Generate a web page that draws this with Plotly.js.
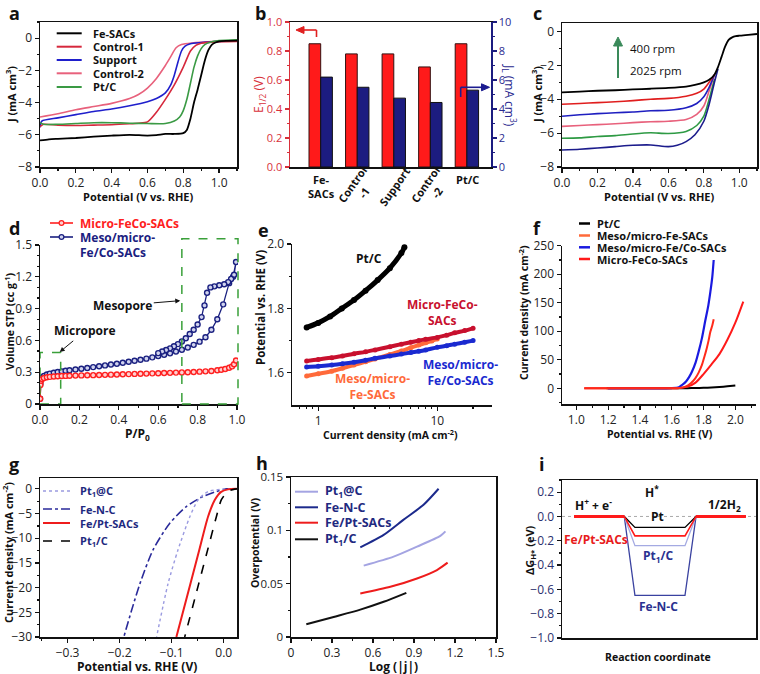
<!DOCTYPE html>
<html>
<head>
<meta charset="utf-8">
<script src="https://cdn.plot.ly/plotly-3.0.1.min.js"></script>
<style>html,body{margin:0;padding:0;background:#fff;}#chart{width:760px;height:674px;}</style>
</head>
<body>
<div id="chart"></div>
<script>
// ---------------- DATA ----------------
// (a) ORR polarization curves
const aFeX = [0, 0.05, 0.1, 0.2, 0.3, 0.4, 0.5, 0.6, 0.65, 0.7, 0.75, 0.8, 0.82, 0.84, 0.86, 0.88, 0.9, 0.92, 0.94, 0.96, 0.98, 1.0, 1.05, 1.1];
const aFeY = [-6.35, -6.28, -6.25, -6.2, -6.12, -6.05, -6.0, -6.05, -6.02, -5.95, -5.95, -5.9, -5.7, -5.0, -4.0, -3.2, -2.3, -1.4, -0.75, -0.4, -0.27, -0.2, -0.17, -0.15];
const aC1X = [0, 0.02, 0.1, 0.2, 0.3, 0.4, 0.5, 0.55, 0.6, 0.65, 0.7, 0.75, 0.8, 0.84, 0.87, 0.9, 1.0, 1.1];
const aC1Y = [-5.5, -5.35, -5.4, -5.42, -5.4, -5.38, -5.32, -5.28, -5.2, -4.6, -3.8, -2.9, -1.8, -0.8, -0.45, -0.32, -0.22, -0.2];
const aSupX = [0, 0.01, 0.1, 0.2, 0.3, 0.4, 0.5, 0.6, 0.65, 0.7, 0.73, 0.75, 0.77, 0.79, 0.81, 0.84, 0.9, 1.0, 1.1];
const aSupY = [-5.55, -5.15, -4.95, -4.75, -4.55, -4.4, -4.2, -3.95, -3.75, -3.4, -2.9, -2.3, -1.5, -0.8, -0.5, -0.35, -0.28, -0.2, -0.18];
const aC2X = [0, 0.1, 0.2, 0.3, 0.4, 0.5, 0.55, 0.6, 0.65, 0.7, 0.73, 0.76, 0.79, 0.85, 1.0, 1.1];
const aC2Y = [-4.9, -4.7, -4.45, -4.25, -4.05, -3.75, -3.5, -3.1, -2.5, -1.7, -1.15, -0.6, -0.4, -0.3, -0.2, -0.15];
const aPtX = [0, 0.02, 0.1, 0.2, 0.3, 0.4, 0.5, 0.6, 0.7, 0.75, 0.78, 0.8, 0.82, 0.84, 0.86, 0.88, 0.9, 0.92, 0.95, 1.0, 1.1];
const aPtY = [-5.25, -5.35, -5.35, -5.3, -5.25, -5.25, -5.28, -5.3, -5.3, -5.15, -4.9, -4.5, -3.8, -2.8, -1.8, -1.1, -0.65, -0.4, -0.25, -0.15, -0.1];
const aNames = ['Fe-SACs', 'Control-1', 'Support', 'Control-2', 'Pt/C'];

// (b) half-wave potential and limiting current
const bCats = ['Fe-SACs', 'Control-1', 'Support', 'Control-2', 'Pt/C'];
const bTickText = ['Fe-<br>SACs', 'Control<br>-1', 'Support', 'Control<br>-2', 'Pt/C'];
const bE12 = [0.85, 0.78, 0.78, 0.69, 0.85];
const bJL = [6.2, 5.5, 4.75, 4.45, 5.3];

// (c) RDE curves at different rotation rates
const cX = [0, 0.1, 0.2, 0.3, 0.4, 0.5, 0.6, 0.7, 0.76, 0.8, 0.83, 0.86];
const c400X = [0, 0.1, 0.2, 0.3, 0.4, 0.5, 0.6, 0.7, 0.75, 0.8, 0.83, 0.86, 0.88, 0.9, 0.92, 0.94, 0.96, 0.98, 1.0, 1.05, 1.1];
const c400Y = [-3.6, -3.55, -3.5, -3.47, -3.42, -3.38, -3.33, -3.25, -3.15, -3.0, -2.85, -2.55, -2.1, -1.5, -0.9, -0.5, -0.35, -0.28, -0.25, -0.2, -0.15];
const c625Y = [-4.3, -4.25, -4.2, -4.15, -4.08, -4.0, -3.95, -3.82, -3.65, -3.4, -3.0, -2.55];
const c900Y = [-5.0, -4.92, -4.85, -4.8, -4.75, -4.68, -4.65, -4.5, -4.25, -3.85, -3.3, -2.55];
const c1225Y = [-5.6, -5.55, -5.5, -5.45, -5.38, -5.33, -5.3, -5.2, -4.9, -4.4, -3.5, -2.55];
const c1600Y = [-6.3, -6.28, -6.2, -6.15, -6.05, -5.98, -6.02, -5.9, -5.55, -5.0, -4.0, -2.8];
const c2025X = [0, 0.1, 0.2, 0.3, 0.4, 0.5, 0.6, 0.65, 0.7, 0.75, 0.8, 0.83, 0.86, 0.88];
const c2025Y = [-7.0, -6.95, -6.88, -6.8, -6.72, -6.7, -6.8, -6.72, -6.5, -6.1, -5.3, -4.3, -3.0, -2.2];

// (d) N2 isotherms
const dRX = [0.0005, 0.002, 0.005, 0.01, 0.02, 0.035, 0.05, 0.07, 0.09, 0.11, 0.13, 0.15, 0.18, 0.21, 0.24, 0.27, 0.3, 0.33, 0.36, 0.39, 0.42, 0.45, 0.48, 0.51, 0.54, 0.57, 0.6, 0.63, 0.66, 0.69, 0.72, 0.75, 0.78, 0.81, 0.84, 0.87, 0.9, 0.92, 0.94, 0.96, 0.975, 0.985, 0.995];
const dRY = [0.05, 0.18, 0.22, 0.235, 0.245, 0.252, 0.256, 0.26, 0.262, 0.264, 0.265, 0.266, 0.268, 0.27, 0.271, 0.272, 0.274, 0.275, 0.277, 0.278, 0.28, 0.282, 0.284, 0.285, 0.287, 0.289, 0.29, 0.292, 0.294, 0.296, 0.298, 0.3, 0.302, 0.305, 0.308, 0.312, 0.318, 0.323, 0.33, 0.342, 0.355, 0.375, 0.41];
const dBX = [0.0005, 0.002, 0.005, 0.01, 0.02, 0.035, 0.05, 0.07, 0.09, 0.11, 0.13, 0.15, 0.18, 0.21, 0.24, 0.27, 0.3, 0.33, 0.36, 0.39, 0.42, 0.45, 0.48, 0.51, 0.54, 0.57, 0.6, 0.63, 0.66, 0.69, 0.72, 0.75, 0.78, 0.81, 0.84, 0.87, 0.9, 0.93, 0.96, 0.98, 0.995,
             0.985, 0.97, 0.955, 0.935, 0.91, 0.885, 0.865, 0.848, 0.835, 0.82, 0.8, 0.78, 0.76, 0.74, 0.72, 0.7, 0.68, 0.66, 0.64, 0.62, 0.6];
const dBY = [0.05, 0.19, 0.23, 0.25, 0.265, 0.278, 0.287, 0.295, 0.302, 0.308, 0.313, 0.318, 0.326, 0.333, 0.34, 0.348, 0.356, 0.364, 0.372, 0.38, 0.389, 0.398, 0.408, 0.418, 0.428, 0.44, 0.452, 0.465, 0.478, 0.495, 0.512, 0.533, 0.558, 0.588, 0.63, 0.7, 0.8, 0.94, 1.14, 1.2, 1.34,
             1.22, 1.18, 1.15, 1.13, 1.12, 1.11, 1.1, 1.05, 0.93, 0.82, 0.75, 0.7, 0.66, 0.62, 0.59, 0.565, 0.545, 0.525, 0.51, 0.495, 0.48];

// (e) OER Tafel plots
const ePtX = [0.8, 1.0, 1.26, 1.58, 2.0, 2.5, 3.16, 4.0, 5.0, 5.3];
const ePtY = [1.741, 1.755, 1.775, 1.8, 1.826, 1.855, 1.888, 1.925, 1.972, 1.99];
const eFeCoX = [0.8, 1, 1.3, 1.6, 2, 2.5, 3, 4, 5, 6, 7, 8, 10, 12, 14, 17, 20];
const eFeCoY = [1.637, 1.641, 1.647, 1.652, 1.659, 1.665, 1.671, 1.681, 1.689, 1.695, 1.7, 1.704, 1.71, 1.717, 1.724, 1.731, 1.738];
const eMesoFeCoY = [1.618, 1.62, 1.624, 1.628, 1.633, 1.639, 1.645, 1.652, 1.658, 1.663, 1.667, 1.671, 1.679, 1.684, 1.689, 1.695, 1.70];
const eFeX = [0.8, 1, 1.3, 1.6, 2, 2.5, 3, 4, 5, 6, 7, 8, 9, 10];
const eFeY = [1.59, 1.597, 1.605, 1.614, 1.624, 1.634, 1.643, 1.657, 1.668, 1.678, 1.686, 1.693, 1.699, 1.705];

// (f) OER LSV curves
const fPtX = [1.19, 1.3, 1.4, 1.5, 1.6, 1.7, 1.75, 1.8, 1.85, 1.9, 1.95, 2.0];
const fPtY = [0, 0, 0, 0, 0.1, 0.3, 0.5, 0.9, 1.5, 2.4, 3.5, 4.8];
const fFeX = [1.05, 1.2, 1.4, 1.6, 1.65, 1.686, 1.72, 1.748, 1.77, 1.79, 1.805, 1.82, 1.832, 1.843, 1.855, 1.864];
const fFeY = [0, 0, 0, 0, 0.5, 3, 9, 17.5, 28, 41, 55, 70, 84, 99, 110, 121];
const fFeCoX = [1.2, 1.4, 1.6, 1.645, 1.665, 1.69, 1.71, 1.727, 1.75, 1.769, 1.79, 1.81, 1.83, 1.843, 1.855, 1.864];
const fFeCoY = [0, 0, 0.5, 2, 5.8, 12, 20, 29, 45, 64, 88, 117, 145, 169, 195, 225];
const fMicroX = [1.05, 1.3, 1.5, 1.6, 1.65, 1.7, 1.75, 1.8, 1.85, 1.9, 1.95, 2.0, 2.05];
const fMicroY = [0, 0, 0, 0, 0.5, 3, 10, 25, 42, 60, 85, 115, 152];

// (g) HER polarization curves
const gPt1atCX = [0.015, -0.008, -0.03, -0.049, -0.065, -0.088, -0.107, -0.129];
const gPt1atCY = [0, -0.1, -0.54, -2.2, -5.6, -12.4, -19.2, -30];
const gFeNCX = [0.015, 0.005, -0.014, -0.04, -0.072, -0.104, -0.136, -0.161, -0.177, -0.192];
const gFeNCY = [0, 0, -0.54, -1.56, -3.6, -7.0, -12.4, -19.2, -24.6, -30];
const gFePtX = [0.025, 0.008, -0.005, -0.017, -0.03, -0.047, -0.064, -0.091];
const gFePtY = [0, -0.1, -0.6, -2.2, -5.6, -12.4, -19.2, -30];
const gPt1CX = [0.03, 0.021, 0.008, -0.0045, -0.014, -0.031, -0.048, -0.075];
const gPt1CY = [0, -0.05, -0.54, -2.2, -5.6, -12.4, -19.2, -30];

// (h) HER Tafel plots
const hPt1atCX = [0.532, 0.751, 0.922, 1.093, 1.13];
const hPt1atCY = [0.0669, 0.0753, 0.0847, 0.0948, 0.099];
const hFeNCX = [0.507, 0.678, 0.824, 0.97, 1.08];
const hFeNCY = [0.0841, 0.0957, 0.11, 0.124, 0.139];
const hFePtX = [0.507, 0.727, 0.922, 1.068, 1.146];
const hFePtY = [0.0408, 0.0471, 0.0549, 0.0628, 0.0697];
const hPt1CX = [0.112, 0.312, 0.507, 0.678, 0.844];
const hPt1CY = [0.0119, 0.0188, 0.0257, 0.033, 0.0414];

// (i) free-energy diagram
const iX = [0.062, 0.321, 0.376, 0.634, 0.691, 0.948];
const iPt = [0, 0, -0.09, -0.09, 0, 0];
const iFePt = [0, 0, -0.16, -0.16, 0, 0];
const iPt1C = [0, 0, -0.24, -0.24, 0, 0];
const iFeNC = [0, 0, -0.65, -0.65, 0, 0];

// ---------------- LAYOUT HELPERS ----------------
const W = 760, H = 674;
const F = 'Open Sans, sans-serif';
const px = v => v / W;
const py = v => 1 - v / H;
const xd = (a, b) => [a / W, b / W];
const yd = (top, bot) => [1 - bot / H, 1 - top / H];

const shapes = [];
const annotations = [];

function txt(x, y, text, o) {
  o = o || {};
  annotations.push({
    xref: 'paper', yref: 'paper', x: px(x), y: py(y), text: text, showarrow: false,
    xanchor: o.xa || 'left', yanchor: o.ya || 'middle', align: o.align || 'left',
    textangle: o.angle || 0,
    font: { family: F, size: o.size || 11, color: o.color || '#111', weight: o.bold === false ? 400 : 700 }
  });
}
// axis titles (placed as paper text)
function xt(x, y, text, size) { txt(x, y, text, { size: size || 12, xa: 'center', align: 'center' }); }
function yt(x, y, text, size, color, bold) { txt(x, y, text, { size: size || 12, xa: 'center', align: 'center', angle: -90, color: color, bold: bold }); }
function seg(x0, y0, x1, y1, color, width, dash) {
  shapes.push({ type: 'line', xref: 'paper', yref: 'paper', x0: px(x0), y0: py(y0), x1: px(x1), y1: py(y1),
    line: { color: color, width: width || 2, dash: dash || 'solid' } });
}
function tri(pts, color) {
  const d = pts.map((p, k) => (k ? 'L ' : 'M ') + px(p[0]).toFixed(5) + ' ' + py(p[1]).toFixed(5)).join(' ') + ' Z';
  shapes.push({ type: 'path', xref: 'paper', yref: 'paper', path: d, fillcolor: color, line: { color: color, width: 1 } });
}
function dot(x, y, r, fill, line) {
  shapes.push({ type: 'circle', xref: 'paper', yref: 'paper', x0: px(x - r), x1: px(x + r), y0: py(y + r), y1: py(y - r),
    fillcolor: fill, line: { color: line, width: 1.2 } });
}

function axis(extra) {
  const base = {
    showgrid: false, zeroline: false, showline: true, linecolor: '#111', linewidth: 1.5,
    ticks: 'outside', ticklen: 4, tickwidth: 1.2, tickcolor: '#111',
    tickfont: { family: F, size: 12, color: '#222' },
    minor: { ticks: 'outside', ticklen: 2, tickwidth: 1, tickcolor: '#111' },
    fixedrange: true
  };
  return Object.assign(base, extra);
}

// ---------------- TRACES ----------------
const traces = [];
function line(x, y, xa, ya, color, width, dash, name) {
  traces.push({ type: 'scatter', mode: 'lines', x: x, y: y, xaxis: xa, yaxis: ya, name: name,
    line: { color: color, width: width, dash: dash || 'solid', shape: 'spline', smoothing: 0.7 }, showlegend: false, hoverinfo: 'skip' });
}

// (a)
const aCol = ['#000000', '#d6283c', '#1f1fcc', '#e8617c', '#3a9a44'];
line(aC2X, aC2Y, 'x', 'y', aCol[3], 1.6, null, aNames[3]);
line(aSupX, aSupY, 'x', 'y', aCol[2], 1.6, null, aNames[2]);
line(aC1X, aC1Y, 'x', 'y', aCol[1], 1.6, null, aNames[1]);
line(aPtX, aPtY, 'x', 'y', aCol[4], 1.6, null, aNames[4]);
line(aFeX, aFeY, 'x', 'y', aCol[0], 1.8, null, aNames[0]);

// (b)
traces.push({ type: 'bar', x: bCats, y: bE12, xaxis: 'x2', yaxis: 'y2', name: 'E1/2', width: 0.32, offset: -0.33,
  marker: { color: '#ff1a1a', line: { color: '#331111', width: 1 } }, showlegend: false, hoverinfo: 'skip' });
traces.push({ type: 'bar', x: bCats, y: bJL, xaxis: 'x2', yaxis: 'y10', name: 'JL', width: 0.32, offset: -0.01,
  marker: { color: '#1c1c80', line: { color: '#111', width: 1 } }, showlegend: false, hoverinfo: 'skip' });

// (c)
line(cX, c1600Y, 'x3', 'y3', '#2e9a44', 1.6, null, '1600 rpm');
line(cX, c1225Y, 'x3', 'y3', '#e8617c', 1.6, null, '1225 rpm');
line(cX, c900Y, 'x3', 'y3', '#1f1fc0', 1.6, null, '900 rpm');
line(cX, c625Y, 'x3', 'y3', '#e01e1e', 1.6, null, '625 rpm');
line(c2025X, c2025Y, 'x3', 'y3', '#1c1c8c', 1.6, null, '2025 rpm');
line(c400X, c400Y, 'x3', 'y3', '#000000', 1.8, null, '400 rpm');

// (d)
traces.push({ type: 'scatter', mode: 'lines+markers', x: dBX, y: dBY, xaxis: 'x4', yaxis: 'y4', name: 'Meso/micro-Fe/Co-SACs',
  line: { color: '#1a2080', width: 1.3 }, marker: { symbol: 'circle', size: 5, color: '#d0d3ee', line: { color: '#1a2080', width: 1.4 } },
  showlegend: false, hoverinfo: 'skip' });
traces.push({ type: 'scatter', mode: 'lines+markers', x: dRX, y: dRY, xaxis: 'x4', yaxis: 'y4', name: 'Micro-FeCo-SACs',
  line: { color: '#ff2020', width: 1.3 }, marker: { symbol: 'circle', size: 5, color: '#ffd0d0', line: { color: '#ff2020', width: 1.4 } },
  showlegend: false, hoverinfo: 'skip' });

// (e)
function beads(x, y, color, w, name) {
  traces.push({ type: 'scatter', mode: 'lines+markers', x: x, y: y, xaxis: 'x5', yaxis: 'y5', name: name,
    line: { color: color, width: w, shape: 'spline', smoothing: 0.8 }, marker: { size: w + 1, color: color },
    showlegend: false, hoverinfo: 'skip' });
}
beads(eFeX, eFeY, '#ff6a3a', 4, 'Meso/micro-Fe-SACs');
beads(eFeCoX, eMesoFeCoY, '#1a2ad0', 4, 'Meso/micro-Fe/Co-SACs');
beads(eFeCoX, eFeCoY, '#c8102e', 4, 'Micro-FeCo-SACs');
beads(ePtX, ePtY, '#000000', 5, 'Pt/C');

// (f)
line(fPtX, fPtY, 'x6', 'y6', '#000000', 2, null, 'Pt/C');
line(fFeCoX, fFeCoY, 'x6', 'y6', '#1a1ae0', 2.2, null, 'Meso/micro-Fe/Co-SACs');
line(fMicroX, fMicroY, 'x6', 'y6', '#ff1a1a', 2, null, 'Micro-FeCo-SACs');
line(fFeX, fFeY, 'x6', 'y6', '#ff2a1a', 2, null, 'Meso/micro-Fe-SACs');

// (g)
line(gFeNCX, gFeNCY, 'x7', 'y7', '#2a2a9a', 1.6, 'dashdot', 'Fe-N-C');
line(gPt1atCX, gPt1atCY, 'x7', 'y7', '#9a9ae0', 1.4, 'dot', 'Pt1@C');
line(gFePtX, gFePtY, 'x7', 'y7', '#ee1c1c', 2, null, 'Fe/Pt-SACs');
line(gPt1CX, gPt1CY, 'x7', 'y7', '#000000', 1.6, 'dash', 'Pt1/C');

// (h)
line(hFeNCX, hFeNCY, 'x8', 'y8', '#1c2a8c', 2, null, 'Fe-N-C');
line(hPt1atCX, hPt1atCY, 'x8', 'y8', '#a4a4e2', 2, null, 'Pt1@C');
line(hFePtX, hFePtY, 'x8', 'y8', '#ee1c1c', 2, null, 'Fe/Pt-SACs');
line(hPt1CX, hPt1CY, 'x8', 'y8', '#111111', 2, null, 'Pt1/C');

// (i)
function level(y, color, w, name) {
  traces.push({ type: 'scatter', mode: 'lines', x: iX, y: y, xaxis: 'x9', yaxis: 'y9', name: name,
    line: { color: color, width: w }, showlegend: false, hoverinfo: 'skip' });
}
level(iFeNC, '#3a42a0', 1.3, 'Fe-N-C');
level(iPt1C, '#a4aae2', 1.3, 'Pt1/C');
level(iPt, '#000000', 1.3, 'Pt');
level(iFePt, '#ff1a1a', 1.6, 'Fe/Pt-SACs');
traces.push({ type: 'scatter', mode: 'lines', x: [iX[0], iX[1]], y: [iFePt[0], iFePt[1]], xaxis: 'x9', yaxis: 'y9',
  line: { color: '#ff1a1a', width: 3 }, showlegend: false, hoverinfo: 'skip' });
traces.push({ type: 'scatter', mode: 'lines', x: [iX[4], iX[5]], y: [iFePt[4], iFePt[5]], xaxis: 'x9', yaxis: 'y9',
  line: { color: '#ff1a1a', width: 3 }, showlegend: false, hoverinfo: 'skip' });

// ---------------- AXES ----------------
const layout = {
  width: W, height: H, margin: { l: 0, r: 0, t: 0, b: 0 },
  paper_bgcolor: '#ffffff', plot_bgcolor: 'rgba(0,0,0,0)',
  showlegend: false, font: { family: F, color: '#111' },
  barmode: 'overlay'
};

// a
layout.xaxis = axis({ domain: xd(40, 237), anchor: 'y', range: [0, 1.1], dtick: 0.2, tickformat: '.1f', mirror: true,
  minor: { ticks: 'outside', ticklen: 2, dtick: 0.1, tickcolor: '#111' } });
layout.yaxis = axis({ domain: yd(22, 167), anchor: 'x', range: [-8, 1], dtick: 2, mirror: true,
  minor: { ticks: 'outside', ticklen: 2, dtick: 1, tickcolor: '#111' } });

// b
layout.xaxis2 = axis({ domain: xd(290, 491), anchor: 'y2', type: 'category', range: [-0.85, 4.65], showticklabels: false,
  ticks: '', mirror: true, minor: { ticks: '' } });
layout.yaxis2 = axis({ domain: yd(22, 167), anchor: 'x2', range: [0, 1.0], dtick: 0.2, tickformat: '.1f', linecolor: '#d8303a', tickcolor: '#d8303a',
  tickfont: { family: F, size: 11, color: '#d8303a' }, minor: { ticks: 'outside', ticklen: 2, dtick: 0.1, tickcolor: '#d8303a' } });
layout.yaxis10 = axis({ overlaying: 'y2', anchor: 'x2', side: 'right', range: [0, 10], dtick: 2, linecolor: '#1c1c80', tickcolor: '#1c1c80',
  tickfont: { family: F, size: 11, color: '#2a2a90' }, minor: { ticks: 'outside', ticklen: 2, dtick: 1, tickcolor: '#1c1c80' } });

// c
layout.xaxis3 = axis({ domain: xd(562, 757), anchor: 'y3', range: [0, 1.1], dtick: 0.2, tickformat: '.1f', mirror: true,
  minor: { ticks: 'outside', ticklen: 2, dtick: 0.1, tickcolor: '#111' } });
layout.yaxis3 = axis({ domain: yd(23, 167), anchor: 'x3', range: [-8, 0.5], dtick: 2, mirror: true,
  minor: { ticks: 'outside', ticklen: 2, dtick: 1, tickcolor: '#111' } });

// d
layout.xaxis4 = axis({ domain: xd(40, 238), anchor: 'y4', range: [0, 1.005], dtick: 0.2, tickformat: '.1f',
  minor: { ticks: 'outside', ticklen: 2, dtick: 0.1, tickcolor: '#111' } });
layout.yaxis4 = axis({ domain: yd(245, 404), anchor: 'x4', range: [0, 1.5], dtick: 0.3,
  minor: { ticks: 'outside', ticklen: 2, dtick: 0.1, tickcolor: '#111' } });

// e
layout.xaxis5 = axis({ domain: xd(292, 492), anchor: 'y5', type: 'log', range: [-0.22, 1.46], tickvals: [1, 10], ticktext: ['1', '10'],
  minor: { ticks: 'outside', ticklen: 2, tickcolor: '#111', tickvals: [0.6, 0.7, 0.8, 0.9, 2, 3, 4, 5, 6, 7, 8, 9, 20] } });
layout.yaxis5 = axis({ domain: yd(244, 405), anchor: 'x5', range: [1.5, 2.0], tickvals: [1.6, 1.8, 2.0], tickformat: '.1f',
  minor: { ticks: 'outside', ticklen: 2, tickcolor: '#111', tickvals: [1.7, 1.9] } });

// f
layout.xaxis6 = axis({ domain: xd(562, 756), anchor: 'y6', range: [0.91, 2.13], dtick: 0.2, tick0: 1.0, tickformat: '.1f',
  minor: { ticks: 'outside', ticklen: 2, dtick: 0.1, tickcolor: '#111' } });
layout.yaxis6 = axis({ domain: yd(245.7, 404), anchor: 'x6', range: [-27.5, 250], dtick: 50, tick0: 0,
  minor: { ticks: 'outside', ticklen: 2, dtick: 25, tickcolor: '#111' } });

// g
layout.xaxis7 = axis({ domain: xd(40, 237), anchor: 'y7', range: [-0.353, 0.0255], dtick: 0.1, tick0: 0, tickformat: '.1f', mirror: true,
  minor: { ticks: 'outside', ticklen: 2, dtick: 0.05, tickcolor: '#111' } });
layout.yaxis7 = axis({ domain: yd(478, 637), anchor: 'x7', range: [-30, 2.2], dtick: 5, tick0: 0, mirror: true,
  minor: { ticks: 'outside', ticklen: 2, dtick: 2.5, tickcolor: '#111' } });

// h
layout.xaxis8 = axis({ domain: xd(291, 496), anchor: 'y8', range: [0, 1.5], dtick: 0.3, mirror: true,
  minor: { ticks: 'outside', ticklen: 2, dtick: 0.15, tickcolor: '#111' } });
layout.yaxis8 = axis({ domain: yd(477, 637), anchor: 'x8', range: [0, 0.15], dtick: 0.05, mirror: true,
  tickfont: { family: F, size: 11.5, color: '#222' },
  minor: { ticks: 'outside', ticklen: 2, dtick: 0.025, tickcolor: '#111' } });

// i
layout.xaxis9 = axis({ domain: xd(562, 756), anchor: 'y9', range: [0, 1], showticklabels: false, ticks: '', mirror: true,
  minor: { ticks: '' } });
layout.yaxis9 = axis({ domain: yd(480, 638), anchor: 'x9', range: [-1.0, 0.3], dtick: 0.2, tick0: 0, tickformat: '.1f', mirror: true,
  tickfont: { family: F, size: 12, color: '#2a2f6e' },
  minor: { ticks: 'outside', ticklen: 2, dtick: 0.1, tickcolor: '#111' } });

// ---------------- AXIS TITLES ----------------
xt(138, 196, 'Potential (V vs. RHE)', 11);
yt(11, 95, 'J (mA cm<sup>3</sup>)', 11);
yt(259, 95, 'E<sub>1/2</sub> (V)', 12, '#d8303a', false);
txt(510, 95, 'J<sub>L</sub> (mA cm<sup>3</sup>)', { size: 12, xa: 'center', align: 'center', angle: 90, color: '#2a2a90', bold: false });
xt(659, 197, 'Potential (V vs. RHE)', 11);
yt(537, 95, 'J (mA cm<sup>3</sup>)', 11);
xt(137, 434, 'P/P<sub>0</sub>', 12);
yt(10, 322, 'Volume STP (cc g<sup>-1</sup>)', 10.5);
xt(390, 434, 'Current density (mA cm<sup>-2</sup>)', 10.5);
yt(260, 308, 'Potential vs. RHE (V)', 11.5);
xt(660, 434, 'Potential vs. RHE (V)', 10.5);
yt(523, 313, 'Current density (mA cm<sup>-2</sup>)', 10.5);
xt(137, 666, 'Potential vs. RHE (V)', 12);
yt(8, 553, 'Current density (mA cm<sup>-2</sup>)', 11);
xt(393, 666, 'Log (|j|)', 12);
yt(255, 543, 'Overpotential (V)', 10.5);
xt(658, 657, 'Reaction coordinate', 10.5);
yt(530, 550, 'ΔG<sub>H*</sub> (eV)', 11);

// ---------------- DECORATIONS ----------------
// panel letters
[['a', 7, 13], ['b', 253, 13], ['c', 531, 13], ['d', 7, 228], ['e', 256, 230], ['f', 531, 228], ['g', 7, 464], ['h', 254, 463], ['i', 537, 464]]
  .forEach(p => txt(p[1], p[2], p[0], { size: 18 }));

// (a) legend
const aLegY = [33.3, 46.7, 60, 73.3, 87];
aNames.forEach((n, k) => { seg(56.7, aLegY[k], 81.7, aLegY[k], aCol[k], 2); txt(91, aLegY[k], n, { size: 11 }); });

// (b) category labels and arrows
const bAngles = [0, -55, -55, -55, 0];
const bLabelY = [187, 188, 186, 188, 179];
bCats.forEach((c, k) => {
  annotations.push({ xref: 'x2', yref: 'paper', x: c, y: py(bLabelY[k]), text: bTickText[k], showarrow: false,
    textangle: bAngles[k], xanchor: 'center', yanchor: 'middle', align: 'center',
    font: { family: F, size: 11, color: '#111', weight: 700 } });
});
seg(316.5, 37, 316.5, 30, '#e02020', 1.6);
seg(316.5, 30, 302, 30, '#e02020', 1.6);
tri([[296, 30], [304, 26.5], [304, 33.5]], '#e02020');
seg(460.7, 97, 460.7, 87.3, '#1c1c90', 1.6);
seg(460.7, 87.3, 483, 87.3, '#1c1c90', 1.6);
tri([[489.5, 87.3], [481.5, 83.8], [481.5, 90.8]], '#1c1c90');

// (c) arrow and labels
seg(618, 78, 618, 44, '#3a8a5a', 2);
tri([[618, 37], [613.5, 46], [622.5, 46]], '#3a8a5a');
txt(628, 48, '400 rpm', { size: 11.5, bold: false });
txt(628, 70, '2025 rpm', { size: 11.5, bold: false });

// (d) legend, boxes, labels
seg(50, 223, 73, 223, '#ff2020', 1.6); dot(61.5, 223, 2.4, '#ffd0d0', '#ff2020');
txt(78, 223, 'Micro-FeCo-SACs', { size: 12, color: '#ff2020' });
seg(50, 237, 73, 237, '#1a2080', 1.6); dot(61.5, 237, 2.4, '#d0d3ee', '#1a2080');
txt(78, 237, 'Meso/micro-', { size: 12, color: '#1a2080' });
txt(78, 252, 'Fe/Co-SACs', { size: 12, color: '#1a2080' });
shapes.push({ type: 'rect', xref: 'x4', yref: 'y4', x0: 0, x1: 0.105, y0: 0, y1: 0.487, line: { color: '#3aa03a', width: 1.5, dash: 'dash' } });
shapes.push({ type: 'rect', xref: 'x4 domain', yref: 'y4 domain', x0: 0.72 / 1.005, x1: 1.0, y0: 0, y1: 1.04, line: { color: '#3aa03a', width: 1.5, dash: 'dash' } });
annotations.push({ xref: 'x4', yref: 'y4', x: 0.1, y: 0.49, axref: 'x4', ayref: 'y4', ax: 0.23, ay: 0.69, text: 'Micropore', showarrow: true,
  arrowhead: 2, arrowsize: 1, arrowwidth: 1, arrowcolor: '#111', standoff: 0,
  font: { family: F, size: 12, color: '#111', weight: 700 } });
annotations.push({ xref: 'x4', yref: 'y4', x: 0.712, y: 0.975, axref: 'x4', ayref: 'y4', ax: 0.42, ay: 0.93, text: 'Mesopore', showarrow: true,
  arrowhead: 2, arrowsize: 1, arrowwidth: 1, arrowcolor: '#111', standoff: 0,
  font: { family: F, size: 12, color: '#111', weight: 700 } });

// (e) curve labels
function eLab(x, y, t, c) {
  annotations.push({ xref: 'x5', yref: 'y5', x: x, y: y, text: t, showarrow: false, align: 'center',
    font: { family: F, size: 12, color: c, weight: 700 } });
}
eLab(0.426, 1.956, 'Pt/C', '#111');
eLab(1.04, 1.788, 'Micro-FeCo-<br>SACs', '#c8102e');
eLab(1.196, 1.602, 'Meso/micro-<br>Fe/Co-SACs', '#1a2ad0');
eLab(0.454, 1.556, 'Meso/micro-<br>Fe-SACs', '#ff6a3a');

// (f) legend
const fLeg = [['Pt/C', '#000000'], ['Meso/micro-Fe-SACs', '#ff6a3a'], ['Meso/micro-Fe/Co-SACs', '#1a1ae0'], ['Micro-FeCo-SACs', '#ff1a1a']];
const fLegY = [223.5, 235.5, 247.3, 259];
fLeg.forEach((e, k) => { seg(579, fLegY[k], 590, fLegY[k], e[1], 2.5); txt(595, fLegY[k], e[0], { size: 11 }); });

// (g) legend
const gLeg = [['Pt<sub>1</sub>@C', '#9a9ae0', 'dot', 1.4], ['Fe-N-C', '#2a2a9a', 'dashdot', 1.6], ['Fe/Pt-SACs', '#ee1c1c', 'solid', 2], ['Pt<sub>1</sub>/C', '#000000', 'dash', 1.6]];
const gLegY = [491, 509, 523, 541];
gLeg.forEach((e, k) => { seg(43, gLegY[k], 70, gLegY[k], e[1], e[3], e[2]); txt(78, gLegY[k], e[0], { size: 11, color: '#1f2a80' }); });

// (h) legend
const hLeg = [['Pt<sub>1</sub>@C', '#a4a4e2'], ['Fe-N-C', '#1c2a8c'], ['Fe/Pt-SACs', '#ee1c1c'], ['Pt<sub>1</sub>/C', '#111111']];
const hLegY = [491.7, 507.3, 522.7, 539.3];
hLeg.forEach((e, k) => { seg(295, hLegY[k], 318, hLegY[k], e[1], 2); txt(323, hLegY[k], e[0], { size: 12.5, color: '#1f2a80' }); });

// (i) reference line and labels
shapes.push({ type: 'line', xref: 'x9 domain', yref: 'y9', x0: 0, x1: 1, y0: 0, y1: 0, layer: 'below', line: { color: '#aaaaaa', width: 1, dash: 'dot' } });
txt(651.7, 491.7, 'H<sup>*</sup>', { size: 12, xa: 'center' });
txt(593, 505, 'H<sup>+</sup> + e<sup>-</sup>', { size: 12, xa: 'center' });
txt(724, 505, '1/2H<sub>2</sub>', { size: 12, xa: 'center' });
txt(657.7, 516.7, 'Pt', { size: 12, xa: 'center' });
txt(595.7, 539.3, 'Fe/Pt-SACs', { size: 12, xa: 'center', color: '#e81c1c' });
txt(658, 556, 'Pt<sub>1</sub>/C', { size: 12, xa: 'center', color: '#2a3290' });
txt(658, 606, 'Fe-N-C', { size: 12, xa: 'center', color: '#2a3290' });

layout.shapes = shapes;
layout.annotations = annotations;

Plotly.newPlot('chart', traces, layout, { staticPlot: true, displayModeBar: false });
</script>
</body>
</html>
